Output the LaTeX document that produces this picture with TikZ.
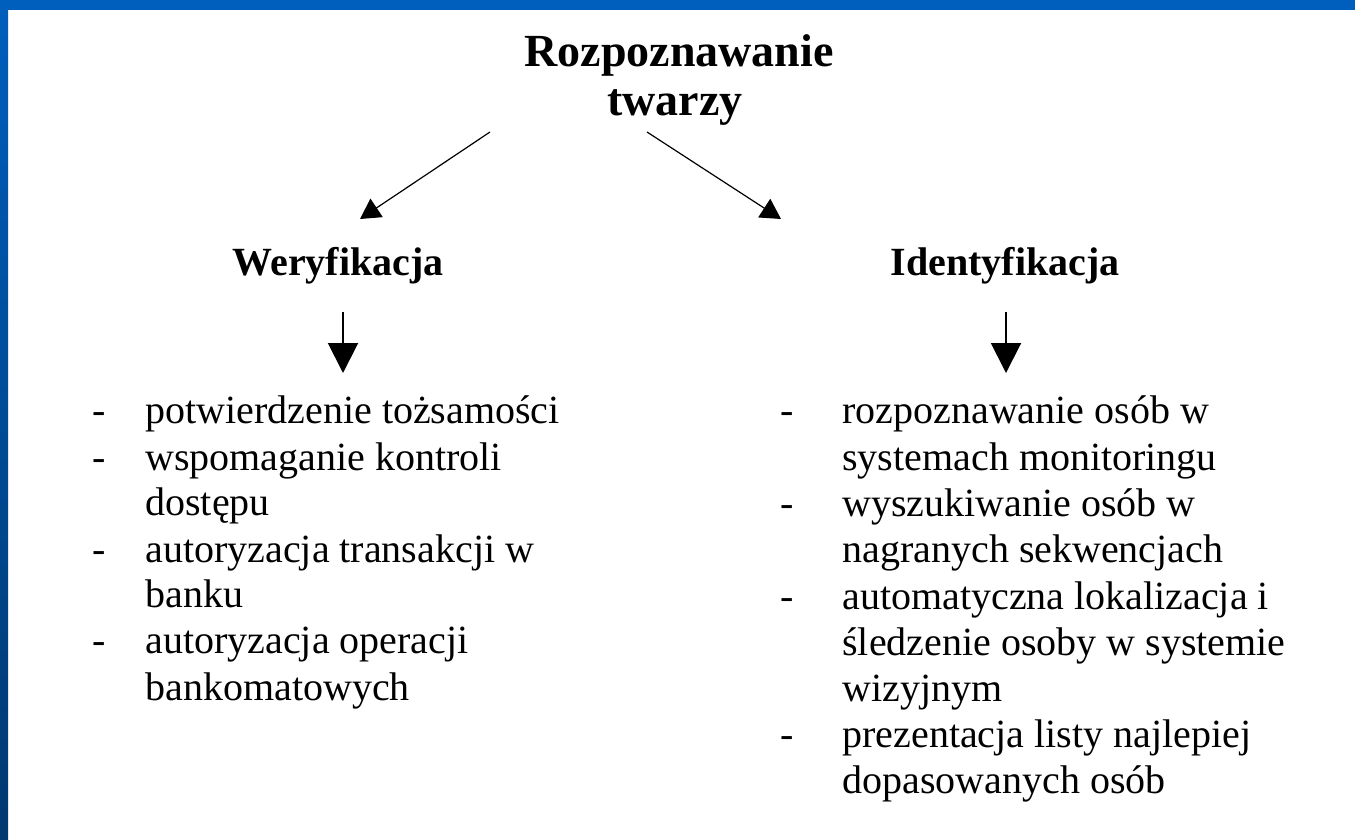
\documentclass[tikz,border=0pt]{standalone}
\usepackage{fontspec}
\setmainfont{Liberation Serif}
\usetikzlibrary{arrows.meta}
\definecolor{bandblue}{HTML}{005EBD}
\definecolor{banddark}{HTML}{00386F}
\begin{document}
\begin{tikzpicture}[x=0.5pt,y=-0.5pt,
  titlestyle/.style={font=\fontsize{23}{27}\selectfont\bfseries, anchor=base, inner sep=0pt},
  headstyle/.style={font=\fontsize{20}{24}\selectfont\bfseries, anchor=base, inner sep=0pt},
  itemstyle/.style={font=\fontsize{20}{24}\selectfont, anchor=base west, inner sep=0pt},
  thinarrow/.style={line width=0.6pt, -{Triangle[length=10pt,width=11pt]}},
  thickarrow/.style={line width=1pt, -{Triangle[length=15pt,width=15pt]}}]
\useasboundingbox (0,0) rectangle (1355,840);
\fill[white] (0,0) rectangle (1355,840);
\shade[top color=bandblue,bottom color=banddark] (0,0) rectangle (8,840);
\fill[bandblue] (0,0) rectangle (1355,10);

% title
\node[titlestyle] (t1) at (679,67) {Rozpoznawanie};
\node[titlestyle] (t2) at (675,116) {twarzy};

% headers
\node[headstyle] (wer) at (338,275) {Weryfikacja};
\node[headstyle] (ide) at (1005,275) {Identyfikacja};

% arrow end points
\coordinate (a1s) at (490,132);
\coordinate (a1e) at (360,219);
\coordinate (a2s) at (647,132);
\coordinate (a2e) at (781,219);
\coordinate (v1s) at (343,312);
\coordinate (v1e) at (343,373);
\coordinate (v2s) at (1006,312);
\coordinate (v2e) at (1006,373);

\draw[thinarrow] (a1s) -- (a1e);
\draw[thinarrow] (a2s) -- (a2e);
\draw[thickarrow] (v1s) -- (v1e);
\draw[thickarrow] (v2s) -- (v2e);

% left list
\node[itemstyle] (ld1) at (92,423) {-};
\node[itemstyle] (l1) at (145,423) {potwierdzenie tożsamości};
\node[itemstyle] (ld2) at (92,470) {-};
\node[itemstyle] (l2) at (145,470) {wspomaganie kontroli};
\node[itemstyle] (l3) at (145,515) {dostępu};
\node[itemstyle] (ld3) at (92,562) {-};
\node[itemstyle] (l4) at (145,562) {autoryzacja transakcji w};
\node[itemstyle] (l5) at (145,607) {banku};
\node[itemstyle] (ld4) at (92,653) {-};
\node[itemstyle] (l6) at (145,653) {autoryzacja operacji};
\node[itemstyle] (l7) at (145,700) {bankomatowych};

% right list
\node[itemstyle] (rd1) at (780,423) {-};
\node[itemstyle] (r1) at (842,423) {rozpoznawanie osób w};
\node[itemstyle] (r2) at (842,470) {systemach monitoringu};
\node[itemstyle] (rd2) at (780,516) {-};
\node[itemstyle] (r3) at (842,516) {wyszukiwanie osób w};
\node[itemstyle] (r4) at (842,562) {nagranych sekwencjach};
\node[itemstyle] (rd3) at (780,609) {-};
\node[itemstyle] (r5) at (842,609) {automatyczna lokalizacja i};
\node[itemstyle] (r6) at (842,655) {śledzenie osoby w systemie};
\node[itemstyle] (r7) at (842,701) {wizyjnym};
\node[itemstyle] (rd4) at (780,747) {-};
\node[itemstyle] (r8) at (842,747) {prezentacja listy najlepiej};
\node[itemstyle] (r9) at (842,793) {dopasowanych osób};
\end{tikzpicture}
\end{document}
